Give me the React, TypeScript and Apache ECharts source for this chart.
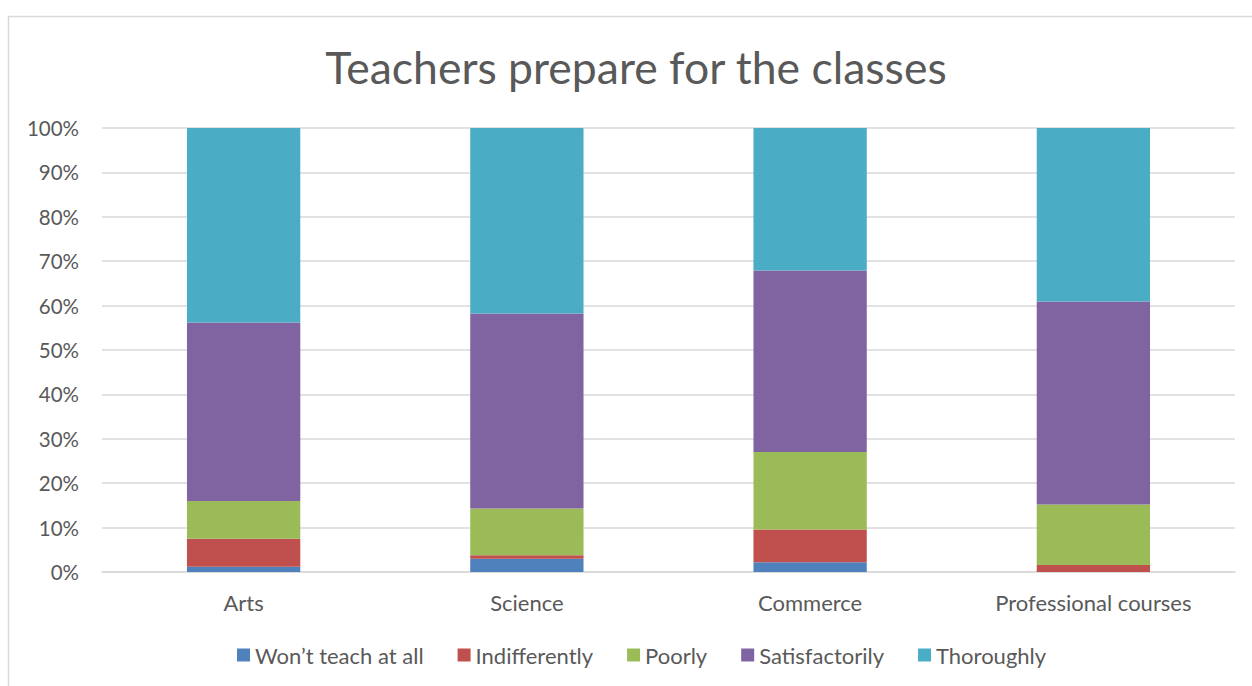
import React, { useEffect, useRef } from "react";
import * as echarts from "echarts";

const categories = ["Arts", "Science", "Commerce", "Professional courses"];
const seriesNames = ["Won\u2019t teach at all", "Indifferently", "Poorly", "Satisfactorily", "Thoroughly"];
const wontTeach = [1.2, 3.0, 2.2, 0];
const indifferently = [6.3, 0.8, 7.4, 1.6];
const poorly = [8.5, 10.5, 17.4, 13.6];
const satisfactorily = [40.2, 43.9, 40.9, 45.7];
const thoroughly = [43.8, 41.8, 32.1, 39.1];
const colors = ["#4F81BD", "#C0504D", "#9BBB59", "#8064A2", "#4BACC6"];
const titleText = "Teachers prepare for the classes";

const FONT = "Lato, 'Open Sans', sans-serif";

export default function App() {
  const ref = useRef<HTMLDivElement>(null);
  useEffect(() => {
    if (!ref.current) return;
    const chart = echarts.init(ref.current, null, { renderer: "svg" });
    const data = [wontTeach, indifferently, poorly, satisfactorily, thoroughly];
    chart.setOption({
      animation: false,
      color: colors,
      textStyle: { fontFamily: FONT },
      graphic: [
        {
          type: "rect",
          shape: { x: 8.5, y: 16.5, width: 1300, height: 700 },
          style: { fill: "none", stroke: "#d9d9d9", lineWidth: 1.5 },
          silent: true,
          z: -10,
        },
        {
          type: "text",
          x: 636,
          y: 66,
          style: {
            text: titleText,
            fontFamily: FONT,
            fontSize: 44.5,
            fill: "#595959",
            align: "center",
            verticalAlign: "middle",
          },
          silent: true,
        },
      ],
      legend: {
        top: 639,
        left: 232,
        icon: "rect",
        itemWidth: 13,
        itemHeight: 13,
        itemGap: 34,
        textStyle: { fontFamily: FONT, fontSize: 22, color: "#595959", padding: [0, 0, 0, 0] },
        data: seriesNames,
      },
      grid: { left: 102, right: 17, top: 128, bottom: 114 },
      xAxis: {
        type: "category",
        data: categories,
        axisLine: { lineStyle: { color: "#d9d9d9", width: 1.5 } },
        axisTick: { show: false },
        axisLabel: { fontFamily: FONT, fontSize: 22, color: "#595959", margin: 19 },
      },
      yAxis: {
        type: "value",
        min: 0,
        max: 100,
        interval: 10,
        axisLine: { show: false },
        axisTick: { show: false },
        splitLine: { lineStyle: { color: "#d9d9d9", width: 1.5 } },
        axisLabel: { fontFamily: FONT, fontSize: 20.5, color: "#595959", margin: 23, formatter: "{value}%" },
      },
      series: seriesNames.map((name, i) => ({
        name,
        type: "bar",
        stack: "total",
        barWidth: "40%",
        data: data[i],
        itemStyle: { color: colors[i] },
      })),
    });
    return () => chart.dispose();
  }, []);
  return (
    <div
      ref={ref}
      style={{ position: "absolute", left: 0, top: 0, width: 1252, height: 686, background: "#fff" }}
    />
  );
}
